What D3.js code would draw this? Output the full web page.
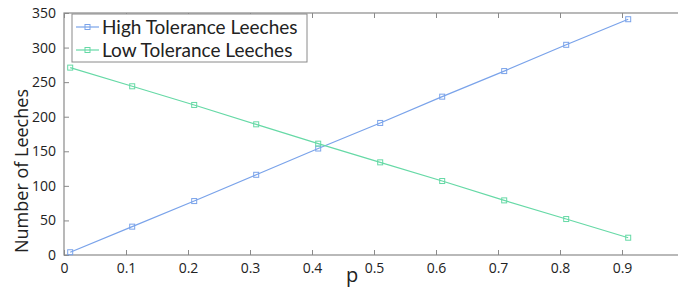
<!DOCTYPE html>
<html>
<head>
<meta charset="utf-8">
<script src="https://cdn.jsdelivr.net/npm/d3@7"></script>
<style>
  body { margin: 0; background: #fff; }
  text { font-family: "Open Sans", sans-serif; fill: #222; }
</style>
</head>
<body>
<div id="chart"></div>
<script>
var svgWidth = 678;
var svgHeight = 289;

// data
var pValues = [0.01, 0.11, 0.21, 0.31, 0.41, 0.51, 0.61, 0.71, 0.81, 0.91];
var highTolerance = [4, 41, 78, 116, 154, 191, 229, 266, 304, 341];
var lowTolerance = [271, 244, 217, 189, 161, 134, 107, 79, 52, 25];
var xTicks = [0, 0.1, 0.2, 0.3, 0.4, 0.5, 0.6, 0.7, 0.8, 0.9];
var yTicks = [0, 50, 100, 150, 200, 250, 300, 350];
var seriesNames = ["High Tolerance Leeches", "Low Tolerance Leeches"];
var seriesColors = ["#7aa3ea", "#66d9a6"];

var margin = { top: 13, left: 64 };
var plotBottom = 255;
var plotRight = 684;

var svg = d3.select("#chart")
    .append("svg")
    .attr("width", svgWidth)
    .attr("height", svgHeight);

var xScale = d3.scaleLinear().domain([0, 1]).range([margin.left, plotRight]);
var yScale = d3.scaleLinear().domain([0, 350]).range([plotBottom, margin.top]);

var axisColor = "#8a8a8a";

// box
svg.append("rect")
    .attr("x", margin.left)
    .attr("y", margin.top)
    .attr("width", plotRight - margin.left)
    .attr("height", plotBottom - margin.top)
    .attr("fill", "none")
    .attr("stroke", axisColor)
    .attr("stroke-width", 1.2);

// bottom axis
var bottomAxis = svg.append("g")
    .attr("transform", `translate(0, ${plotBottom})`)
    .call(d3.axisBottom(xScale).tickValues(xTicks).tickSize(-5).tickPadding(8)
        .tickFormat(d => d === 0 ? "0" : d3.format(".1f")(d)));
bottomAxis.select(".domain").remove();
bottomAxis.selectAll("line").attr("stroke", axisColor);
bottomAxis.selectAll("text").style("font-size", "14px").attr("dy", "0.71em");

// top ticks
var topAxis = svg.append("g")
    .attr("transform", `translate(0, ${margin.top})`)
    .call(d3.axisTop(xScale).tickValues(xTicks).tickSize(-5).tickFormat(""));
topAxis.select(".domain").remove();
topAxis.selectAll("line").attr("stroke", axisColor);

// left axis
var leftAxis = svg.append("g")
    .attr("transform", `translate(${margin.left}, 0)`)
    .call(d3.axisLeft(yScale).tickValues(yTicks).tickSize(-5).tickPadding(8));
leftAxis.select(".domain").remove();
leftAxis.selectAll("line").attr("stroke", axisColor);
leftAxis.selectAll("text").style("font-size", "14px");

// lines
var series = [highTolerance, lowTolerance];
var line = d3.line()
    .x((d, i) => xScale(pValues[i]))
    .y(d => yScale(d));

series.forEach(function(values, s) {
    svg.append("path")
        .datum(values)
        .attr("d", line)
        .attr("fill", "none")
        .attr("stroke", seriesColors[s])
        .attr("stroke-width", 1.2);

    svg.selectAll(null)
        .data(values)
        .enter()
        .append("rect")
        .attr("x", (d, i) => xScale(pValues[i]) - 2.5)
        .attr("y", d => yScale(d) - 2.5)
        .attr("width", 5)
        .attr("height", 5)
        .attr("fill", "none")
        .attr("stroke", seriesColors[s])
        .attr("stroke-width", 1);
});

// legend
var legend = svg.append("g");
legend.append("rect")
    .attr("x", 72)
    .attr("y", 14)
    .attr("width", 235)
    .attr("height", 48)
    .attr("fill", "#fff")
    .attr("stroke", axisColor)
    .attr("stroke-width", 1);

seriesNames.forEach(function(name, i) {
    var ly = 27 + i * 23;
    legend.append("line")
        .attr("x1", 76).attr("x2", 99)
        .attr("y1", ly).attr("y2", ly)
        .attr("stroke", seriesColors[i])
        .attr("stroke-width", 1.2);
    legend.append("rect")
        .attr("x", 85).attr("y", ly - 2.5)
        .attr("width", 5).attr("height", 5)
        .attr("fill", "none")
        .attr("stroke", seriesColors[i]);
    legend.append("text")
        .attr("x", 102)
        .attr("y", ly)
        .attr("dy", "0.35em")
        .style("font-family", "Lato, sans-serif")
        .style("font-size", "19px")
        .text(name);
});

// axis labels
svg.append("text")
    .attr("x", 352)
    .attr("y", 282)
    .attr("text-anchor", "middle")
    .style("font-size", "20px")
    .text("p");

svg.append("text")
    .attr("transform", "translate(28, 171) rotate(-90)")
    .attr("text-anchor", "middle")
    .style("font-size", "18px")
    .text("Number of Leeches");
</script>
</body>
</html>
